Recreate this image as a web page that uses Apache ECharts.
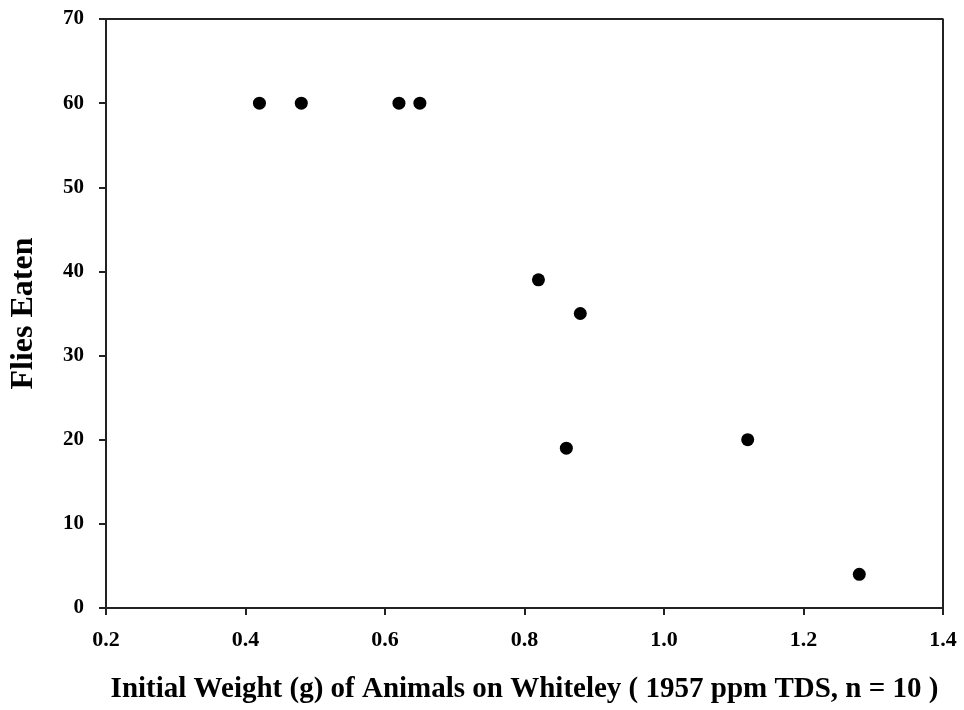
<!DOCTYPE html>
<html>
<head>
<meta charset="utf-8">
<script src="https://cdn.jsdelivr.net/npm/echarts@6/dist/echarts.min.js"></script>
<style>
html,body{margin:0;padding:0;background:#fff;}
#main{width:964px;height:710px;}
</style>
</head>
<body>
<div id="main"></div>
<script>
// Data
var weights = [0.42, 0.48, 0.62, 0.65, 0.82, 0.88, 0.86, 1.12, 1.28];
var fliesEaten = [60, 60, 60, 60, 39, 35, 19, 20, 4];
var xTitle = 'Initial Weight (g) of Animals on Whiteley ( 1957 ppm TDS, n = 10 )';
var yTitle = 'Flies Eaten';

var points = weights.map(function (w, i) { return [w, fliesEaten[i]]; });
var font = '"Liberation Serif", "Times New Roman", serif';

var chart = echarts.init(document.getElementById('main'), null, {renderer: 'canvas'});
chart.setOption({
  animation: false,
  backgroundColor: '#fff',
  grid: {left: 106, top: 19, right: 21, bottom: 102, show: false},
  xAxis: {
    type: 'value', min: 0.2, max: 1.4, interval: 0.2,
    name: xTitle, nameLocation: 'middle', nameGap: 67,
    nameTextStyle: {fontFamily: font, fontWeight: 'bold', fontSize: 29, color: '#000'},
    axisLine: {show: true, onZero: false, lineStyle: {color: '#222', width: 2}},
    axisTick: {show: true, inside: false, length: 7, lineStyle: {color: '#222', width: 2}},
    axisLabel: {margin: 21, fontFamily: font, fontWeight: 'bold', fontSize: 22, color: '#000',
      formatter: function (v) { return v.toFixed(1); }},
    splitLine: {show: false}
  },
  yAxis: {
    type: 'value', min: 0, max: 70, interval: 10,
    name: yTitle, nameLocation: 'middle', nameGap: 66, nameRotate: 90,
    nameTextStyle: {fontFamily: font, fontWeight: 'bold', fontSize: 32, color: '#000'},
    axisLine: {show: true, onZero: false, lineStyle: {color: '#222', width: 2}},
    axisTick: {show: true, inside: false, length: 7, lineStyle: {color: '#222', width: 2}},
    axisLabel: {margin: 22, fontFamily: font, fontWeight: 'bold', fontSize: 21, color: '#000'},
    splitLine: {show: false}
  },
  series: [
    {
      type: 'scatter',
      data: points,
      symbol: 'circle',
      symbolSize: 13,
      itemStyle: {color: '#000', opacity: 1}
    },
    {
      // top and right frame lines
      type: 'line',
      data: [[0.2, 70], [1.4, 70], [1.4, 0]],
      symbol: 'none',
      silent: true,
      lineStyle: {color: '#222', width: 2},
      z: 1
    }
  ]
});
</script>
</body>
</html>
